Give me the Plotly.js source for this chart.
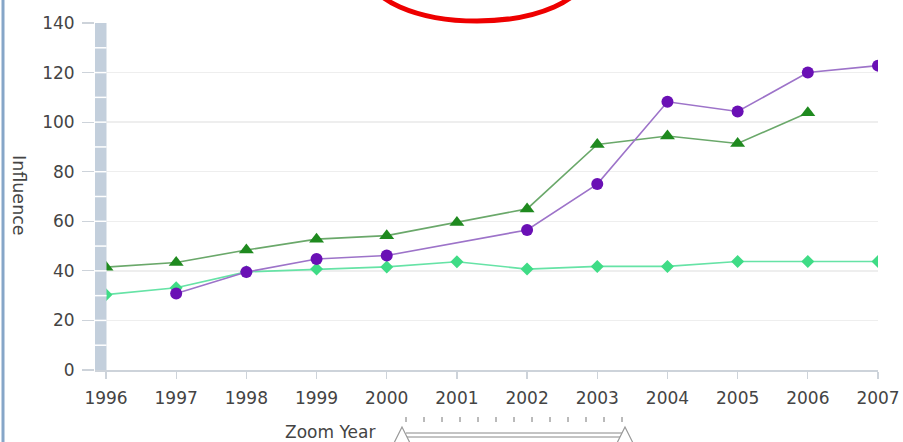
<!DOCTYPE html>
<html>
<head>
<meta charset="utf-8">
<script src="https://cdn.plot.ly/plotly-3.0.1.min.js"></script>
<style>html,body{margin:0;padding:0;background:#fff;}#chart{width:903px;height:442px;}</style>
</head>
<body>
<div id="chart"></div>
<script>
const years = [1996, 1997, 1998, 1999, 2000, 2001, 2002, 2003, 2004, 2005, 2006, 2007];
const purpleSeries = [null, 30.9, 39.5, 44.8, 46.2, null, 56.5, 75.0, 108.2, 104.3, 120.0, 122.8];
const greenSeries = [41.5, 43.4, 48.4, 52.8, 54.2, 59.5, 65.0, 91.0, 94.4, 91.4, 103.8, null];
const mintSeries = [30.4, 33.2, 39.6, 40.7, 41.6, 43.7, 40.7, 41.8, 41.8, 43.8, 43.8, 43.8];
const yTicks = [0, 20, 40, 60, 80, 100, 120, 140];
const xTickLabels = ['1996','1997','1998','1999','2000','2001','2002','2003','2004','2005','2006','2007'];

// plot geometry (pixels)
const W = 903, H = 442;
const L = 95, R = 878, T = 23, B = 370;
const pw = R - L, ph = B - T;
const px = p => (p - L) / pw;
const py = p => (B - p) / ph;
const yearPx = 70.18;

const traces = [
  {x: years, y: mintSeries, mode: 'lines+markers', connectgaps: true,
   line: {color: '#66e3a6', width: 1.6},
   marker: {symbol: 'diamond', size: 10, color: '#3fdc86'}},
  {x: years, y: greenSeries, mode: 'lines+markers', connectgaps: true,
   line: {color: '#6aa86a', width: 1.6},
   marker: {symbol: 'triangle-up', size: 13, color: '#1f8a1f'}},
  {x: years, y: purpleSeries, mode: 'lines+markers', connectgaps: true,
   line: {color: '#9d73c9', width: 1.6},
   marker: {symbol: 'circle', size: 12, color: '#6a10b5'}}
];

const shapes = [];
// grey bar at left of plot
shapes.push({type: 'rect', xref: 'paper', yref: 'paper', x0: px(95), x1: px(106.5), y0: 0, y1: 1,
  fillcolor: '#c3cfdc', line: {width: 0}, layer: 'above'});
for (let v = 10; v < 140; v += 10) {
  shapes.push({type: 'line', xref: 'paper', yref: 'y', x0: px(95), x1: px(106.5), y0: v, y1: v,
    line: {color: '#ffffff', width: 1.5}, layer: 'above'});
}
// blue left border
shapes.push({type: 'line', xref: 'paper', yref: 'paper', x0: px(3), x1: px(3), y0: py(-5), y1: py(447),
  line: {color: '#86a6c8', width: 3}});
// red ellipse annotation
shapes.push({type: 'circle', xref: 'paper', yref: 'paper', x0: px(368), x1: px(586), y0: py(21), y1: py(-75),
  line: {color: '#ee0000', width: 5}});
// zoom slider tick marks
for (let i = 0; i < 13; i++) {
  const xx = 406 + i * 18;
  shapes.push({type: 'line', xref: 'paper', yref: 'paper', x0: px(xx), x1: px(xx), y0: py(417), y1: py(422),
    line: {color: '#777', width: 1}});
}
// slider track
shapes.push({type: 'line', xref: 'paper', yref: 'paper', x0: px(406), x1: px(622), y0: py(433), y1: py(433),
  line: {color: '#888', width: 1}});
shapes.push({type: 'line', xref: 'paper', yref: 'paper', x0: px(406), x1: px(622), y0: py(437), y1: py(437),
  line: {color: '#888', width: 1}});
// slider handles (triangles)
[402, 625].forEach(cx => {
  shapes.push({type: 'path', xref: 'paper', yref: 'paper',
    path: `M ${px(cx)} ${py(427)} L ${px(cx - 10)} ${py(447)} L ${px(cx + 10)} ${py(447)} Z`,
    fillcolor: '#ffffff', line: {color: '#999', width: 1.2}});
});

const annotations = [
  {text: 'Influence', xref: 'paper', yref: 'paper', x: px(19), y: py(195), showarrow: false,
   textangle: 90, font: {family: 'DejaVu Sans', size: 17.5, color: '#444'}, xanchor: 'center', yanchor: 'middle'},
  {text: 'Zoom Year', xref: 'paper', yref: 'paper', x: px(330), y: py(432), showarrow: false,
   font: {family: 'DejaVu Sans', size: 17, color: '#444'}, xanchor: 'center', yanchor: 'middle'}
];

const layout = {
  width: W, height: H,
  margin: {l: L, r: W - R, t: T, b: H - B, pad: 0},
  paper_bgcolor: '#ffffff', plot_bgcolor: '#ffffff',
  showlegend: false,
  font: {family: 'DejaVu Sans', color: '#444'},
  xaxis: {
    range: [1996 - (106 - L) / yearPx, 2007],
    tickvals: years, ticktext: xTickLabels,
    showgrid: false, zeroline: false,
    showline: true, linecolor: '#cdd3da', linewidth: 1.5,
    ticks: 'outside', ticklen: 7, tickcolor: '#cdd3da', tickwidth: 1.2,
    ticklabelstandoff: 5,
    tickfont: {family: 'DejaVu Sans', size: 17, color: '#444'}
  },
  yaxis: {
    range: [0, 140], tickvals: yTicks,
    showgrid: true, gridcolor: '#eeeeee', gridwidth: 1.3,
    zeroline: false, showline: false,
    ticks: 'outside', ticklen: 12, tickcolor: '#cdd3da', tickwidth: 1.2,
    ticklabelstandoff: 4,
    tickfont: {family: 'DejaVu Sans', size: 17, color: '#444'}
  },
  shapes: shapes,
  annotations: annotations
};

Plotly.newPlot('chart', traces, layout, {displayModeBar: false, staticPlot: true});
</script>
</body>
</html>
